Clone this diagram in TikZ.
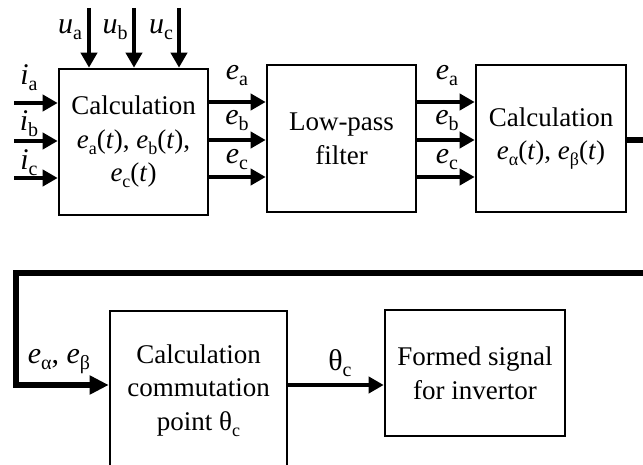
\documentclass[tikz,border=0pt]{standalone}
\usepackage{fontspec}
\setmainfont{Liberation Serif}
\usetikzlibrary{arrows.meta}
\newcommand\sbs[1]{\raisebox{-3pt}{\fontsize{9}{9}\selectfont #1}}
\newcommand\lsb[1]{\raisebox{-3pt}{\fontsize{10}{10}\selectfont #1}}
\newcommand\ii[1]{\textit{#1}}
\begin{document}
\begin{tikzpicture}[x=0.5pt,y=-0.5pt,
  blk/.style={draw,line width=1.3pt,inner sep=0pt,align=center,
    font=\fontsize{13.5}{16.8}\selectfont},
  arr/.style={line width=2pt,-{Triangle[length=7.5pt,width=8pt]}},
  fb/.style={line width=3pt},
  fbarr/.style={line width=3pt,-{Triangle[length=9.5pt,width=9pt]}},
  lab/.style={inner sep=0pt,font=\fontsize{15}{16}\selectfont}]
\useasboundingbox (0,0) rectangle (643,465);
\clip (0,0) rectangle (643,465);
% blocks
\node[blk,minimum width=74.5pt,minimum height=73pt] (b1) at (133.5,142)
  {Calculation\\ \ii{e}\sbs{a}(\ii{t}), \ii{e}\sbs{b}(\ii{t}),\\ \ii{e}\sbs{c}(\ii{t})};
\node[blk,minimum width=74.5pt,minimum height=73.5pt] (b2) at (341.5,138.5)
  {Low-pass\\filter};
\node[blk,minimum width=75pt,minimum height=73.5pt] (b3) at (551,138.5)
  {Calculation\\ \ii{e}\sbs{α}(\ii{t}), \ii{e}\sbs{β}(\ii{t})};
\node[blk,minimum width=88.5pt,minimum height=79.5pt] (b4) at (198.5,390.5)
  {Calculation\\commutation\\point θ\sbs{c}};
\node[blk,minimum width=90pt,minimum height=63pt] (b5) at (475,373)
  {Formed signal\\for invertor};
% free ends
\coordinate (ia) at (14,103);
\coordinate (ib) at (14,141);
\coordinate (ic) at (14,178);
\coordinate (ua) at (89,8);
\coordinate (ub) at (134,8);
\coordinate (uc) at (179,8);
\coordinate (r1) at (650,140);
\coordinate (r2) at (650,273);
\coordinate (k1) at (16,273);
\coordinate (k2) at (16,385);
% inputs
\draw[arr] (ia) -- (b1.west |- ia);
\draw[arr] (ib) -- (b1.west |- ib);
\draw[arr] (ic) -- (b1.west |- ic);
\draw[arr] (ua) -- (b1.north -| ua);
\draw[arr] (ub) -- (b1.north -| ub);
\draw[arr] (uc) -- (b1.north -| uc);
% b1 -> b2 -> b3
\foreach \yy in {102,140,177}{
  \draw[arr] (b1.east |- 0,\yy) -- (b2.west |- 0,\yy);
  \draw[arr] (b2.east |- 0,\yy) -- (b3.west |- 0,\yy);
}
% feedback
\draw[fb] (b3.east |- r1) -- (r1);
\draw[fbarr,line join=miter] (r2) -- (k1) -- (k2) -- (b4.west |- k2);
\draw[arr] (b4.east |- 0,385) -- (b5.west |- 0,385);
% labels
\node[lab] at (70,30) {\ii{u}\lsb{a}};
\node[lab] at (115,30) {\ii{u}\lsb{b}};
\node[lab] at (161,30) {\ii{u}\lsb{c}};
\node[lab] at (29,78) {\ii{i}\lsb{a}};
\node[lab] at (29,124) {\ii{i}\lsb{b}};
\node[lab] at (29,163) {\ii{i}\lsb{c}};
\node[lab] at (237,76) {\ii{e}\lsb{a}};
\node[lab] at (237,121) {\ii{e}\lsb{b}};
\node[lab] at (237,160) {\ii{e}\lsb{c}};
\node[lab] at (447,76) {\ii{e}\lsb{a}};
\node[lab] at (447,121) {\ii{e}\lsb{b}};
\node[lab] at (447,160) {\ii{e}\lsb{c}};
\node[lab] at (59,362) {\ii{e}\lsb{α}, \ii{e}\lsb{β}};
\node[lab] at (340,363) {θ\lsb{c}};
\end{tikzpicture}
\end{document}
